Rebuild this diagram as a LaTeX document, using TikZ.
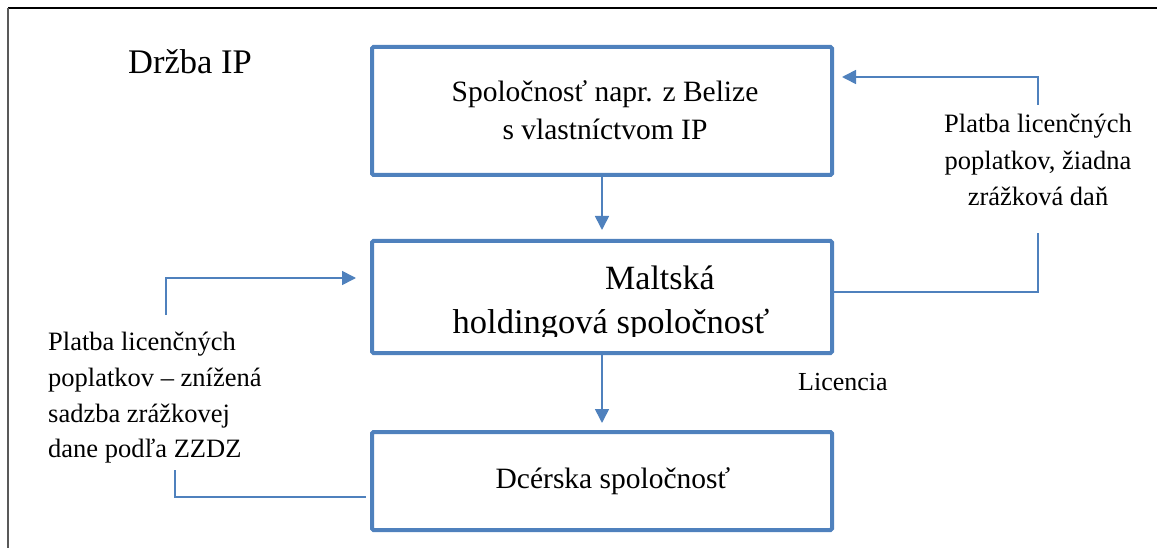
\documentclass[tikz,border=0pt]{standalone}
\usepackage{fontspec}
\setmainfont{Liberation Serif}
\usetikzlibrary{arrows.meta}
\definecolor{ofblue}{RGB}{79,129,189}
\begin{document}
\begin{tikzpicture}[x=1pt,y=-1pt,
  box/.style={draw=ofblue, line width=4pt, rounded corners=1.5pt, minimum width=460pt, inner sep=0pt, align=center},
  conn/.style={draw=ofblue, line width=1.6pt},
  arr/.style={conn, -{Triangle[length=14pt,width=14pt]}},
  txt/.style={inner sep=0pt}]
\useasboundingbox (0,0) rectangle (1157,548);
% frame
\draw[black, line width=1.3pt] (8,8) -- (1157,8);
\draw[black!65, line width=1.3pt] (8,8) -- (8,548);
% boxes
\node[box, minimum height=128pt] (b1) at (602,111) {};
\node[box, minimum height=112pt] (b2) at (602,297) {};
\node[box, minimum height=98pt] (b3) at (602,481) {};
\node[txt, anchor=north, align=center, font=\fontsize{29.5}{38}\selectfont] (t1) at (605,80) {Spoločnosť napr. z Belize\\s vlastníctvom IP};
\node[txt, anchor=base, font=\fontsize{29.5}{36}\selectfont] (t3) at (613,488) {Dcérska spoločnosť};
\begin{scope}
\clip (372,243) rectangle (832,336);
\node[txt, anchor=base west, font=\fontsize{34}{40}\selectfont] (m1) at (605,289) {Maltská};
\node[txt, anchor=base, font=\fontsize{34.5}{40}\selectfont] (m2) at (611,333) {holdingová spoločnosť};
\end{scope}
% texts
\node[txt, anchor=base west, font=\fontsize{34.5}{40}\selectfont] (title) at (128,74) {Držba IP};
\node[txt, anchor=base west, font=\fontsize{26}{30}\selectfont] (lic) at (798,390) {Licencia};
\node[txt, anchor=north, align=center, font=\fontsize{26.5}{36.5}\selectfont] (rtext) at (1038,114) {Platba licenčných\\poplatkov, žiadna\\zrážková daň};
\node[txt, anchor=north west, align=left, font=\fontsize{26.5}{35.7}\selectfont] (ltext) at (48,332) {Platba licenčných\\poplatkov – znížená\\sadzba zrážkovej\\dane podľa ZZDZ};
% connectors
\coordinate (rb) at (1038,233);
\coordinate (rt) at (1038,105);
\coordinate (rc) at (1038,77);
\coordinate (la) at (166,315);
\coordinate (lc) at (175,470);
\draw[arr, shorten >=9pt] (b1.south) -- (b2.north);
\draw[arr, shorten >=7pt] (b2.south) -- (b3.north);
\draw[conn] ([yshift=5pt]b2.east) -| (rb);
\draw[arr] (rt) |- ([xshift=8pt]b1.east |- rc);
\draw[arr] (la) |- ([xshift=-14pt,yshift=19pt]b2.west);
\draw[conn] (lc) |- ([xshift=-4pt,yshift=-16pt]b3.west);
\end{tikzpicture}
\end{document}
